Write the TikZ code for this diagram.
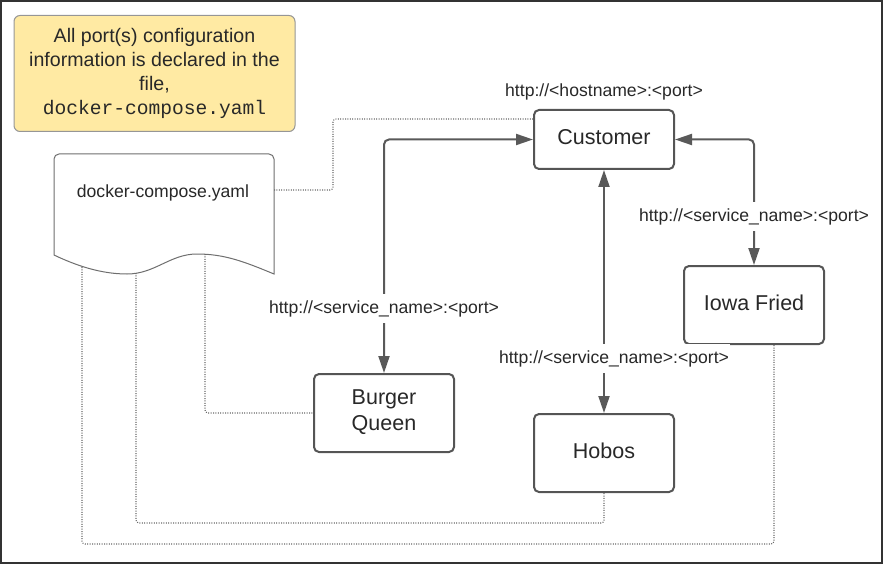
\documentclass[tikz,border=0pt]{standalone}
\usepackage{fontspec}
\setmainfont{Liberation Sans}
\setmonofont{Liberation Mono}
\usetikzlibrary{arrows.meta,calc}
\definecolor{frame}{RGB}{51,51,51}
\definecolor{boxline}{RGB}{85,85,85}
\definecolor{arrowc}{RGB}{89,89,89}
\definecolor{dotc}{RGB}{105,105,105}
\definecolor{txt}{RGB}{40,40,40}
\definecolor{notefill}{RGB}{255,234,163}
\definecolor{noteline}{RGB}{150,150,150}
\newcommand\upt[2][2.5pt]{\raisebox{#1}[\height][\depth]{#2}}
\tikzset{
  svc/.style={draw=boxline, line width=2pt, rounded corners=5pt, fill=white,
    minimum width=140pt, inner sep=0pt, align=center, text=txt,
    font=\fontsize{21.5}{26}\selectfont},
  lbl/.style={fill=white, text=txt, inner xsep=1pt, inner ysep=6pt,
    font=\fontsize{17.6}{20}\selectfont},
  conn/.style={draw=arrowc, line width=2pt, rounded corners=5pt,
    {Triangle[length=17pt,width=11pt]}-{Triangle[length=17pt,width=11pt]}},
  dotline/.style={draw=dotc, line width=1.1pt, dash pattern=on 1pt off 1.4pt, rounded corners=3pt},
}
\begin{document}
\begin{tikzpicture}[x=1pt,y=-1pt]
\useasboundingbox (0,0) rectangle (883,564);
\draw[frame, line width=2pt] (1,1) rectangle (882,563);

% note
\node[draw=noteline, line width=1pt, fill=notefill, rounded corners=6pt,
  minimum width=281pt, minimum height=116pt, inner sep=0pt, align=center,
  text=txt, font=\fontsize{19.6}{23.9}\selectfont] (note) at (154.5,73.5)
  {All port(s) configuration\\information is declared in the\\file,\\\texttt{docker-compose.yaml}};

% document shape
\draw[draw=boxline!85, line width=1pt, fill=white]
  (54,255) [rounded corners=5pt] -- (54,154) -- (274,154) [sharp corners] -- (274,274)
  .. controls (245,262) and (225,254) .. (197,254)
  .. controls (170,254) and (155,274) .. (127,274)
  .. controls (100,274) and (75,265) .. cycle;
\node[text=txt, font=\fontsize{17.6}{20}\selectfont] (doclbl) at (163,192.5) {docker-compose.yaml};
\coordinate (docR) at (274,190);
\coordinate (d82) at (82,267);
\coordinate (d136) at (136,273);
\coordinate (d205) at (205,254);

% services
\node[svc, minimum height=59pt] (cust) at (604,139.5) {\upt{Customer}};
\node[svc, minimum height=78pt] (iowa) at (754,305) {\upt{Iowa Fried}};
\node[svc, minimum height=78pt] (bq) at (384,413) {\upt[1pt]{Burger}\\\upt[1pt]{Queen}};
\node[svc, minimum height=78pt] (hob) at (604,453) {\upt{Hobos}};

% hostname label
\node[text=txt, font=\fontsize{17.6}{20}\selectfont] (host) at (604,92) {http://<hostname>:<port>};

% dotted connectors
\coordinate (cj) at (333,119);
\draw[dotline] (docR) -| (cj) -- (cj -| cust.west);
\draw[dotline] (d205) |- (bq.west);
\coordinate (h1) at (136,523);
\draw[dotline] (d136) -- (h1) -| (hob.south);
\coordinate (i1) at (82,544);
\draw[dotline] (d82) -- (i1) -| ($(iowa.south)+(20,0)$);

% solid connectors
\draw[conn] (bq.north) |- (cust.west);
\node[lbl] (l1) at (384,308.5) {http://<service\_name>:<port>};
\draw[conn] (hob.north) -- (cust.south);
\node[lbl] (l2) at (614,358.5) {http://<service\_name>:<port>};
\draw[conn] (cust.east) -| (iowa.north);
\node[lbl] (l3) at (754,216.5) {http://<service\_name>:<port>};
\end{tikzpicture}
\end{document}
